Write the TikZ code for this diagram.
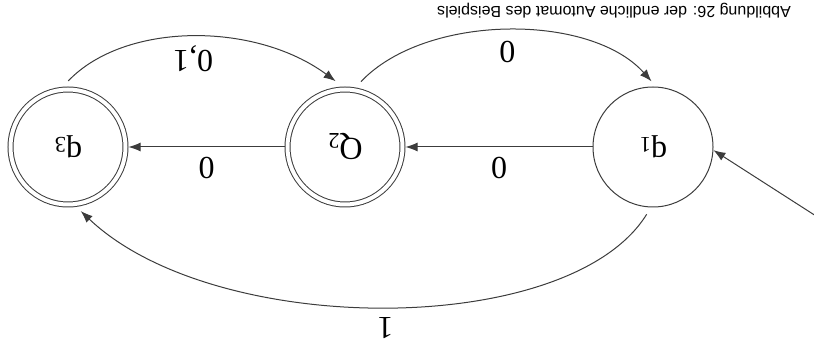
\documentclass[tikz,border=0pt]{standalone}
\usepackage{fontspec}
\setmainfont{Liberation Serif}
\newfontfamily\captionfont{Liberation Sans}
\usepackage{graphicx}
\usetikzlibrary{arrows.meta,positioning}
\definecolor{edgeGray}{RGB}{60,60,60}
\newcommand{\flip}[1]{\rotatebox{180}{#1}}

\begin{document}
\begin{tikzpicture}[x=0.5pt, y=-0.5pt,
    state/.style={draw=edgeGray, circle, line width=0.5pt, minimum size=60pt, inner sep=0pt, font=\fontsize{16}{19}\selectfont},
    accepting/.style={double, double distance=2pt, minimum size=57.5pt, outer sep=1.5pt},
    trans/.style={-{Latex[length=6pt,width=4.5pt]}, draw=edgeGray, line width=0.5pt},
    lab/.style={font=\fontsize{16}{19}\selectfont}]
    \useasboundingbox (0,0) rectangle (814,347);
    % states
    \node[state] (q1) at (653,147) {\flip{q\textsubscript{1}}};
    \node[state, accepting] (q2) at (345,147) {\flip{Q\textsubscript{2}}};
    \node[state, accepting] (q3) at (68,147) {\flip{q\textsubscript{3}}};
    \coordinate (start) at (816,216);
    % transitions
    \draw[trans] (start) -- (q1.-3);
    \draw[trans] (q1) -- node[lab, below=1.5pt] {\flip{0}} (q2);
    \draw[trans] (q2) -- node[lab, below=1.5pt] {\flip{0}} (q3);
    \draw[trans, shorten <=4pt, shorten >=4.5pt] (q3.95) .. controls +(62,-65) and +(-88,-65) .. node[lab, below=0.5pt] {\flip{0,1}} (q2.92);
    \draw[trans, shorten <=4pt, shorten >=3.5pt] (q2.80) .. controls +(70,-74) and +(-66,-74) .. node[lab, below=1.5pt] {\flip{0}} (q1.87);
    \draw[trans, shorten <=4pt, shorten >=3pt] (q1.-92) .. controls +(-81,131) and +(139,132) .. node[lab, below=2.5pt] {\flip{1}} (q3.-82);
    % caption
    \node[font=\captionfont\fontsize{8}{10}\selectfont] (caption) at (614,11) {\flip{Abbildung 26: der endliche Automat des Beispiels}};
\end{tikzpicture}
\end{document}
